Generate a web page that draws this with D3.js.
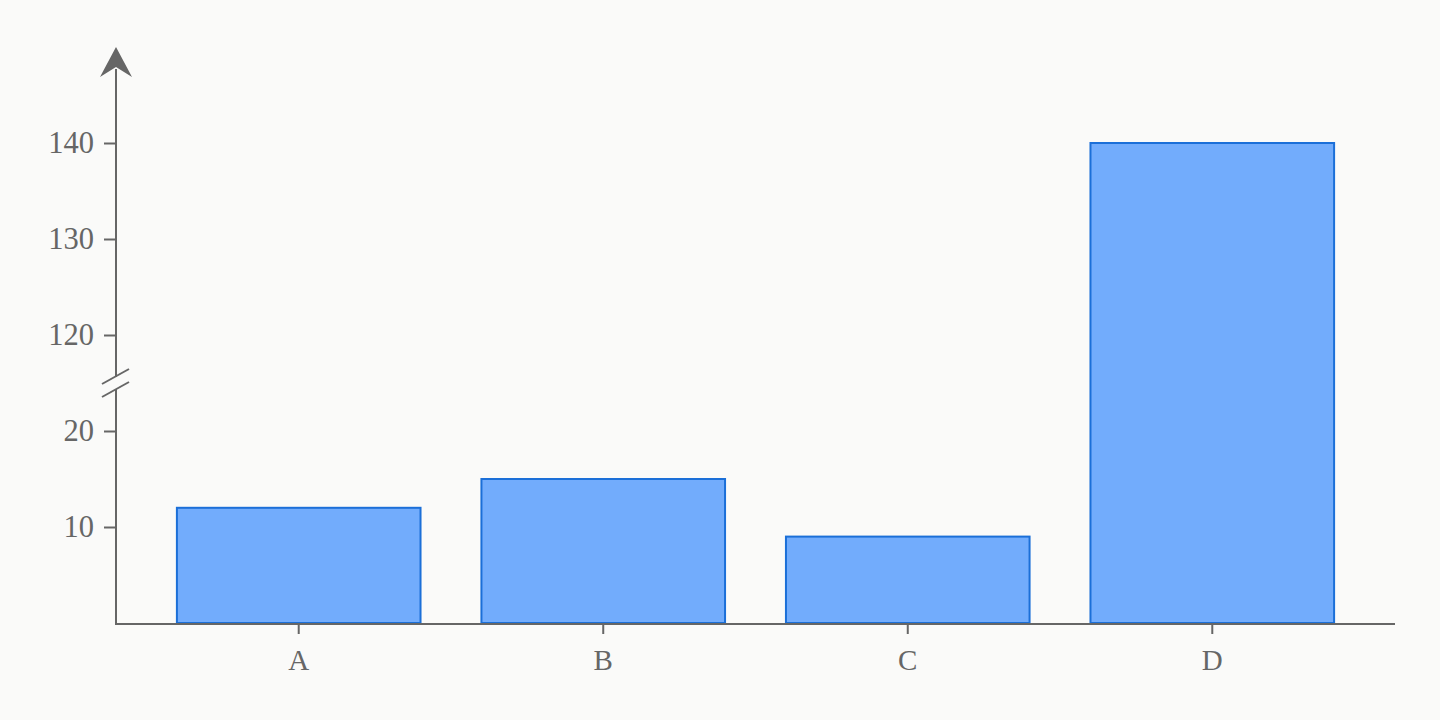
<!DOCTYPE html>
<html>
<head>
<meta charset="utf-8">
<script src="https://cdn.jsdelivr.net/npm/d3@7"></script>
<style>
  html, body { margin: 0; padding: 0; background: #fafaf9; }
  svg { display: block; }
</style>
</head>
<body>
<svg id="chart" width="1440" height="720"></svg>
<script>
const categories = ["A", "B", "C", "D"];
const values = [12, 15, 9, 140];
const yTickValues = [10, 20, 120, 130, 140];
// broken axis: lower segment 0–25, upper segment 115–150
const yDomain = [0, 25, 115, 150];

(function () {
const W = 1440, H = 720;
const mLeft = 116, mRight = 1395, mBottom = 623, mTop = 47, breakY = 383;
const axisColor = "#666666";
const bg = "#fafaf9";
const font = "'Liberation Serif', 'DejaVu Serif', serif";

const svg = d3.select("#chart");
svg.append("rect").attr("width", W).attr("height", H).attr("fill", bg);

const x = d3.scaleBand().domain(categories).range([mLeft, mRight]).paddingInner(0.2).paddingOuter(0.2);
const y = d3.scaleLinear().domain(yDomain).range([mBottom, breakY, breakY, mTop]);

// bars
svg.append("g").selectAll("rect").data(values).join("rect")
  .attr("x", (d, i) => x(categories[i]))
  .attr("y", d => y(d))
  .attr("width", x.bandwidth())
  .attr("height", d => y(0) - y(d))
  .attr("fill", "#72acfc")
  .attr("stroke", "#1b6fd8")
  .attr("stroke-width", 2);

// y axis ticks & labels
const yAxis = d3.axisLeft(y).tickValues(yTickValues).tickSize(12).tickPadding(10).tickFormat(d3.format("d"));
const gy = svg.append("g").attr("transform", `translate(${mLeft},0)`).call(yAxis);
gy.select(".domain").remove();
gy.selectAll(".tick line").attr("stroke", axisColor).attr("stroke-width", 2);
gy.selectAll(".tick text").attr("fill", axisColor).attr("font-family", font).attr("font-size", 30.5);

// x axis
const xAxis = d3.axisBottom(x).tickSize(10).tickPadding(15);
const gx = svg.append("g").attr("transform", `translate(0,${mBottom + 1})`).call(xAxis);
gx.select(".domain").remove();
gx.selectAll(".tick line").attr("stroke", axisColor).attr("stroke-width", 2);
gx.selectAll(".tick text").attr("fill", axisColor).attr("font-family", font).attr("font-size", 29);

// axis lines
svg.append("line").attr("x1", mLeft).attr("x2", mRight).attr("y1", mBottom + 1).attr("y2", mBottom + 1)
  .attr("stroke", axisColor).attr("stroke-width", 2);
svg.append("line").attr("x1", mLeft).attr("x2", mLeft).attr("y1", mBottom + 2).attr("y2", mTop + 22)
  .attr("stroke", axisColor).attr("stroke-width", 2);

// arrow head
svg.append("path")
  .attr("d", `M${mLeft},${mTop} L${mLeft + 16},${mTop + 30} L${mLeft},${mTop + 20} L${mLeft - 16},${mTop + 30} Z`)
  .attr("fill", axisColor);

// break marks
svg.append("rect").attr("x", mLeft - 3).attr("y", breakY - 6).attr("width", 6).attr("height", 12).attr("fill", bg);
[-6.5, 6.5].forEach(off => {
  svg.append("line")
    .attr("x1", mLeft - 14).attr("y1", breakY + off + 7.5)
    .attr("x2", mLeft + 13).attr("y2", breakY + off - 7.5)
    .attr("stroke", axisColor).attr("stroke-width", 2);
});
})();
</script>
</body>
</html>
